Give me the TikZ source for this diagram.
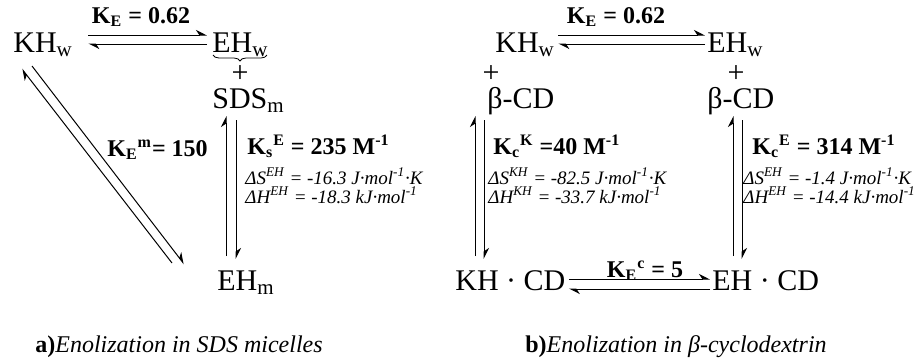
\documentclass[tikz,border=0pt]{standalone}
\usepackage{fontspec}
\setmainfont{Liberation Serif}
\usetikzlibrary{arrows.meta, positioning, calc, decorations.pathreplacing}

\newcommand{\sbs}[1]{\textsubscript{#1}}
\newcommand{\sps}[1]{\textsuperscript{#1}}

\begin{document}
\begin{tikzpicture}[
  x=0.5pt, y=-0.5pt,
  species/.style={inner sep=0pt, anchor=base west, font=\fontsize{15}{18}\selectfont},
  kvalue/.style={inner sep=0pt, anchor=base west, font=\fontsize{12}{14}\selectfont\bfseries},
  thermo/.style={inner sep=0pt, anchor=base west, align=left, font=\fontsize{9.5}{9.2}\selectfont\itshape},
  caption/.style={inner sep=0pt, anchor=base west, font=\fontsize{12}{14}\selectfont},
  plus/.style={inner sep=0pt, font=\fontsize{15}{18}\selectfont},
  harp/.style={-{Stealth[harpoon, length=5pt, width=5pt]}, line width=0.5pt}
]
\useasboundingbox (0,0) rectangle (917,360);

% a) SDS micelles
\node (khwa) [species] at (13,52) {KH\sbs{w}};
\node (ehwa) [species] at (212,52) {EH\sbs{w}};
\node (plusa) [plus] at (240,74) {+};
\node (sdsm) [species] at (212,108) {SDS\sbs{m}};
\node (ehm) [species] at (217,290) {EH\sbs{m}};
\node (kea) [kvalue, anchor=base] at (141,23) {K\sbs{E} = 0.62};
\node (kem) [kvalue] at (107,156) {K\sbs{E}\sps{m}= 150};
\node (kse) [kvalue] at (247,154) {K\sbs{s}\sps{E} = 235 M\sps{-1}};
\node (thermoa) [thermo] at (245,203) {ΔS\sps{EH} = -16.3 J·mol\sps{-1}·K\\ΔH\sps{EH} = -18.3 kJ·mol\sps{-1}};
\node (capa) [caption] at (35,352) {\textbf{a)}\textit{Enolization in SDS micelles}};

\draw [decorate, decoration={brace, amplitude=3pt}]
  ([shift={(-2,3)}]ehwa.base east) -- ([shift={(1,3)}]ehwa.base west);
\draw [harp] ([shift={(15,-17)}]khwa.base east) -- ([shift={(-5,-17)}]ehwa.base west);
\draw [harp] ([shift={(-5,-8)}]ehwa.base west) -- ([shift={(15,-8)}]khwa.base east);
\draw [harp] ([shift={(-45,-27)}]ehm.base west) -- ([shift={(9,17)}]khwa.base west);
\draw [harp] ([shift={(19,14)}]khwa.base west) -- ([shift={(-33,-26)}]ehm.base west);
\draw [harp] ([shift={(9,-34)}]ehm.base west) -- ([shift={(14,8)}]sdsm.base west);
\draw [harp] ([shift={(24,12)}]sdsm.base west) -- ([shift={(19,-31)}]ehm.base west);

% b) beta-cyclodextrin
\node (khwb) [species] at (495,52) {KH\sbs{w}};
\node (ehwb) [species] at (707,52) {EH\sbs{w}};
\node (plusb) [plus] at (491,74) {+};
\node (plusc) [plus] at (736,74) {+};
\node (cdk) [species] at (487,108) {β-CD};
\node (cde) [species] at (707,108) {β-CD};
\node (khcd) [species] at (455,290) {KH · CD};
\node (ehcd) [species] at (712,290) {EH · CD};
\node (keb) [kvalue, anchor=base] at (616,23) {K\sbs{E} = 0.62};
\node (kck) [kvalue] at (493,154) {K\sbs{c}\sps{K} =40 M\sps{-1}};
\node (kce) [kvalue] at (752,154) {K\sbs{c}\sps{E} = 314 M\sps{-1}};
\node (thermob) [thermo] at (488,203) {ΔS\sps{KH} = -82.5 J·mol\sps{-1}·K\\ΔH\sps{KH} = -33.7 kJ·mol\sps{-1}};
\node (thermoc) [thermo] at (743,203) {ΔS\sps{EH} = -1.4 J·mol\sps{-1}·K\\ΔH\sps{EH} = -14.4 kJ·mol\sps{-1}};
\node (kec) [kvalue, anchor=base] at (645,277) {K\sbs{E}\sps{c} = 5};
\node (capb) [caption] at (525,352) {\textbf{b)}\textit{Enolization in β-cyclodextrin}};

\draw [harp] ([shift={(3,-17)}]khwb.base east) -- ([shift={(-2,-17)}]ehwb.base west);
\draw [harp] ([shift={(-2,-8)}]ehwb.base west) -- ([shift={(3,-8)}]khwb.base east);
\draw [harp] ([shift={(20,-34)}]khcd.base west) -- ([shift={(-12,8)}]cdk.base west);
\draw [harp] ([shift={(-3,12)}]cdk.base west) -- ([shift={(29,-31)}]khcd.base west);
\draw [harp] ([shift={(21,-34)}]ehcd.base west) -- ([shift={(26,8)}]cde.base west);
\draw [harp] ([shift={(35,12)}]cde.base west) -- ([shift={(30,-31)}]ehcd.base west);
\draw [harp] ([shift={(3,-11)}]khcd.base east) -- ([shift={(-2,-11)}]ehcd.base west);
\draw [harp] ([shift={(-2,-1)}]ehcd.base west) -- ([shift={(3,-1)}]khcd.base east);

\end{tikzpicture}
\end{document}
